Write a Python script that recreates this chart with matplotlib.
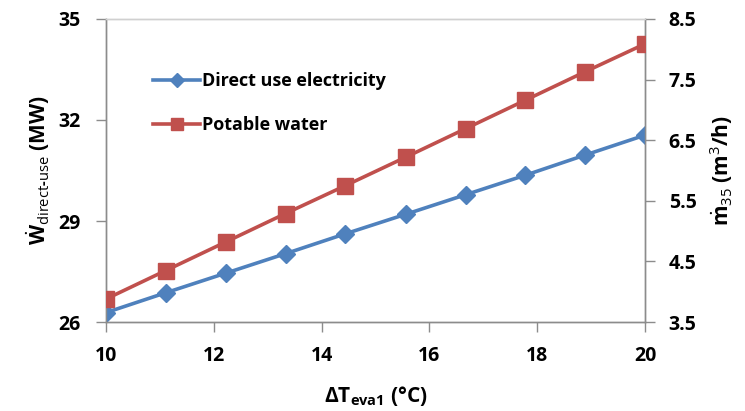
import matplotlib
matplotlib.use("Agg")
import matplotlib.pyplot as plt

plt.rcParams['font.family'] = ['Open Sans', 'DejaVu Sans']
plt.rcParams['font.weight'] = 'bold'
plt.rcParams['axes.labelweight'] = 'bold'
plt.rcParams['mathtext.fontset'] = 'custom'
plt.rcParams['mathtext.rm'] = 'Open Sans:weight=bold'
plt.rcParams['mathtext.bf'] = 'Open Sans:weight=bold'
plt.rcParams['mathtext.sf'] = 'Open Sans:weight=normal'
plt.rcParams['mathtext.it'] = 'Open Sans:weight=bold'
plt.rcParams['mathtext.default'] = 'rm'

# Evaporator temperature difference (°C)
delta_t = [10.0, 11.11, 12.22, 13.33, 14.44, 15.56, 16.67, 17.78, 18.89, 20.0]
# Direct-use electricity (MW), left axis
w_direct = [26.28, 26.87, 27.45, 28.03, 28.62, 29.20, 29.78, 30.36, 30.96, 31.55]
# Potable water production (m3/h), right axis
m_water = [3.88, 4.35, 4.82, 5.29, 5.75, 6.22, 6.69, 7.16, 7.63, 8.09]

x_ticks = [10, 12, 14, 16, 18, 20]
left_ticks = [26, 29, 32, 35]
right_ticks = [3.5, 4.5, 5.5, 6.5, 7.5, 8.5]

blue = '#4F81BD'
red = '#C0504D'
spine_gray = '#8C8C8C'

fig = plt.figure(figsize=(7.45, 4.11), dpi=100)
ax = fig.add_axes([0.1423, 0.2165, 0.7235, 0.7373])
ax2 = ax.twinx()

l1, = ax.plot(delta_t, w_direct, color=blue, lw=2.6, marker='D', ms=9.5,
              mec=blue, mfc=blue, label='Direct use electricity', zorder=3)
l2, = ax2.plot(delta_t, m_water, color=red, lw=2.6, marker='s', ms=11.5,
               mec=red, mfc=red, label='Potable water', zorder=3)

ax.set_xlim(10, 20)
ax.set_ylim(26, 35)
ax2.set_ylim(3.5, 8.5)
ax.set_xticks(x_ticks)
ax.set_yticks(left_ticks)
ax2.set_yticks(right_ticks)
ax2.set_yticklabels([f'{v:.1f}' for v in right_ticks])

for a in (ax, ax2):
    for s in a.spines.values():
        s.set_color(spine_gray)
        s.set_linewidth(1.0)
    a.tick_params(direction='out', length=7, width=1.0, color=spine_gray,
                  labelsize=14)
ax.tick_params(axis='x', pad=10)
ax.tick_params(axis='y', pad=11)
ax2.tick_params(axis='y', pad=10)
ax.spines['top'].set_color('#D0D0D0')
ax2.spines['top'].set_color('#D0D0D0')

ax.set_xlabel(r'$\Delta$T$_{\mathrm{eva1}}$ (°C)', fontsize=15, labelpad=13)
ax.set_ylabel(r'$\dot{\mathrm{W}}_{\mathsf{direct}\text{-}\mathsf{use}}$ (MW)',
              fontsize=15, labelpad=5)
ax2.set_ylabel(r'$\dot{\mathrm{m}}_{\mathsf{35}}$ (m$^{\mathsf{3}}$/h)',
               fontsize=15, labelpad=8)

leg = ax.legend(handles=[l1, l2], loc='upper left', bbox_to_anchor=(0.074, 0.848),
                frameon=False, prop={'weight': 'bold', 'size': 13},
                handlelength=2.6, handletextpad=0.1, labelspacing=1.45,
                markerscale=0.75, borderaxespad=0)

fig.savefig('out.png', dpi=100)
